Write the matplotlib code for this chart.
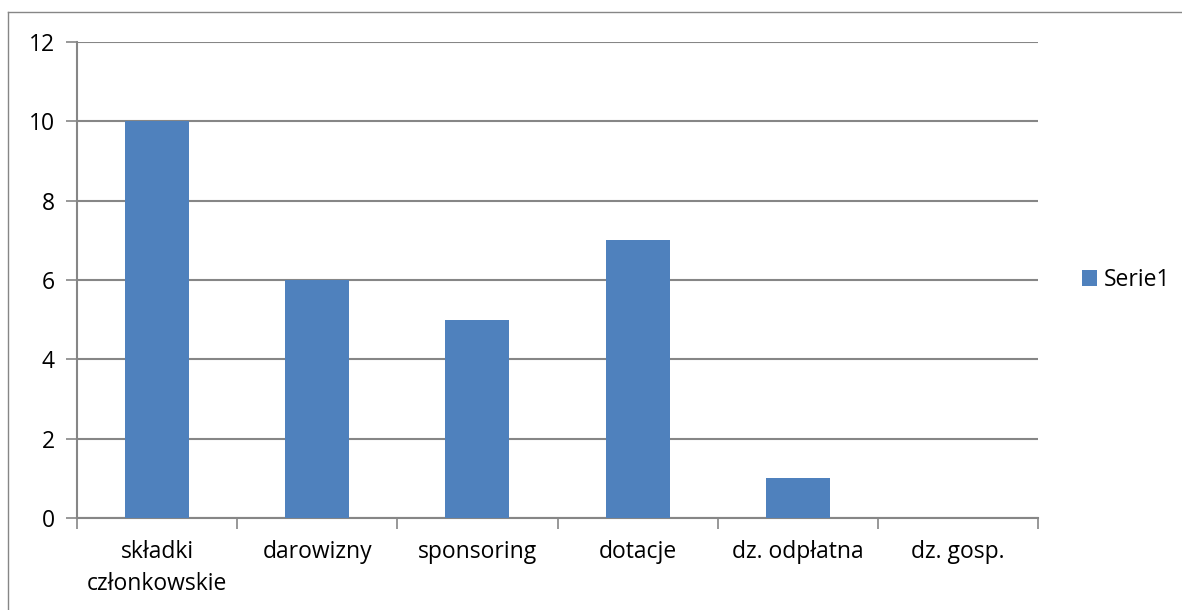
import numpy as np
import matplotlib.pyplot as plt
from matplotlib.lines import Line2D

plt.rcParams['font.family'] = ['Open Sans', 'DejaVu Sans']

# data
categories = ['składki\nczłonkowskie', 'darowizny', 'sponsoring', 'dotacje', 'dz. odpłatna', 'dz. gosp.']
values = [10, 6, 5, 7, 1, 0]
series_name = 'Serie1'

W, H = 1182, 610
fig = plt.figure(figsize=(W / 100, H / 100), dpi=100)
ax = fig.add_axes([77 / W, 1 - 518 / H, (1038 - 77) / W, (518 - 42) / H])

grey = '#868686'
fs = 16.5
x = np.arange(len(categories))
ax.bar(x, values, width=0.4, color='#4F81BD', label=series_name, zorder=3)

ax.set_xlim(-0.5, len(categories) - 0.5)
ax.set_ylim(0, 12)
ax.set_yticks(np.arange(0, 13, 2))
ax.yaxis.grid(True, color=grey, linewidth=1.5, zorder=0)

ax.set_xticks(np.arange(len(categories) + 1) - 0.5, minor=False)
ax.set_xticklabels([])
ax.set_xticks(x, minor=True)
ax.set_xticklabels(categories, minor=True, fontsize=fs, linespacing=1.45)
ax.tick_params(axis='x', which='major', length=8, width=1.2, color=grey, direction='out')
ax.tick_params(axis='x', which='minor', length=0, pad=16)
ax.tick_params(axis='y', length=8, width=1.2, color=grey, labelsize=fs, pad=8)

for s in ['top', 'right']:
    ax.spines[s].set_visible(False)
for s in ['left', 'bottom']:
    ax.spines[s].set_color(grey)
    ax.spines[s].set_linewidth(1.5)

leg = ax.legend(loc='center left', bbox_to_anchor=(1.024, 0.5), frameon=False,
                fontsize=fs, handlelength=0.65, handleheight=0.65, handletextpad=0.3)

# chart border
fig.add_artist(Line2D([8 / W, 8 / W], [0, 1 - 12 / H], color=grey, linewidth=1, transform=fig.transFigure))
fig.add_artist(Line2D([8 / W, 1], [1 - 12 / H, 1 - 12 / H], color=grey, linewidth=1, transform=fig.transFigure))

fig.savefig('out.png', dpi=100)
